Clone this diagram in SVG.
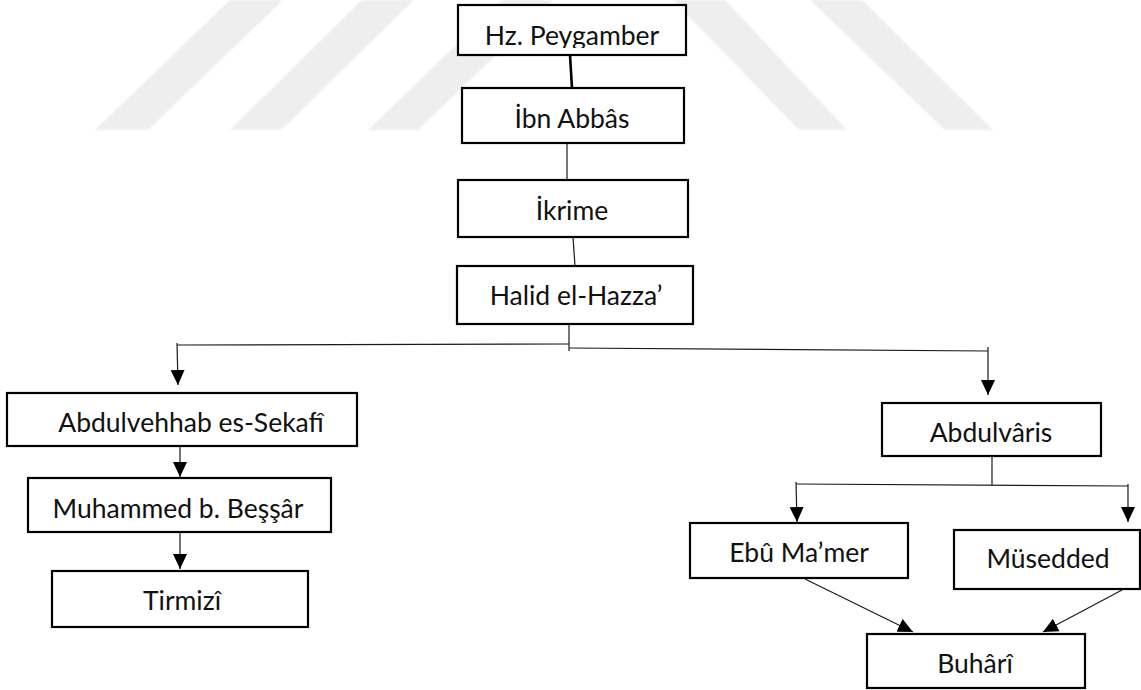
<svg xmlns="http://www.w3.org/2000/svg" width="1141" height="690" viewBox="0 0 1141 690">
  <defs>
    <style>
      .box { fill: #ffffff; stroke: #000000; stroke-width: 2.2; }
      .lbl { font-family: Lato, "Liberation Sans", Arial, sans-serif; font-size: 26.5px; fill: #111111; text-anchor: middle; }
      .ln { fill: none; stroke: #1a1a1a; stroke-width: 1.2; }
      .wm { fill: #eeeeee; }
    </style>
    <marker id="ah" markerUnits="userSpaceOnUse" markerWidth="16" markerHeight="16" viewBox="0 0 16 16" refX="15" refY="8" orient="auto">
      <path d="M0,1 L15,8 L0,15 Z" fill="#000000"/>
    </marker>
    <clipPath id="hzclip">
      <rect x="458" y="5" width="228" height="43"/>
    </clipPath>
    <filter id="soft" x="-5%" y="-5%" width="110%" height="110%">
      <feGaussianBlur stdDeviation="1"/>
    </filter>
  </defs>

  <rect x="0" y="0" width="1141" height="690" fill="#ffffff"/>

  <g id="watermark" filter="url(#soft)">
    <polygon class="wm" points="230,0 283,0 148,130 95,130"/>
    <polygon class="wm" points="362,0 414,0 281,130 230,130"/>
    <polygon class="wm" points="503,0 553,0 418,130 368,130"/>
    <polygon class="wm" points="673,0 725,0 847,130 799,130"/>
    <polygon class="wm" points="810,0 862,0 993,130 945,130"/>
  </g>

  <g id="connectors">
    <line x1="570" y1="55" x2="572" y2="88" stroke="#000" stroke-width="2.6"/>
    <line class="ln" x1="567" y1="143" x2="567" y2="180"/>
    <line class="ln" x1="573" y1="237" x2="575" y2="266"/>
    <line class="ln" x1="569" y1="324" x2="569" y2="351"/>
    <line class="ln" x1="177" y1="345" x2="569" y2="344"/>
    <line class="ln" x1="569" y1="348" x2="988" y2="351"/>
    <line class="ln" x1="177" y1="343" x2="178" y2="385" marker-end="url(#ah)"/>
    <line class="ln" x1="988" y1="347" x2="988" y2="395" marker-end="url(#ah)"/>
    <line class="ln" x1="180" y1="446" x2="180" y2="477" marker-end="url(#ah)"/>
    <line class="ln" x1="180" y1="532" x2="180" y2="569" marker-end="url(#ah)"/>
    <line class="ln" x1="992" y1="456" x2="992" y2="485"/>
    <line class="ln" x1="796" y1="484" x2="1128" y2="486"/>
    <line class="ln" x1="796" y1="482" x2="797" y2="522" marker-end="url(#ah)"/>
    <line class="ln" x1="1128" y1="484" x2="1128" y2="522" marker-end="url(#ah)"/>
    <line class="ln" x1="805" y1="579" x2="913" y2="632" marker-end="url(#ah)"/>
    <line class="ln" x1="1122" y1="590" x2="1043" y2="632" marker-end="url(#ah)"/>
  </g>

  <g id="n-hz">
    <rect class="box" x="458" y="5" width="228" height="50"/>
    <text class="lbl" x="572" y="45" clip-path="url(#hzclip)">Hz. Peygamber</text>
  </g>
  <g id="n-ibn">
    <rect class="box" x="462" y="88" width="222" height="55"/>
    <text class="lbl" x="572" y="128">İbn Abbâs</text>
  </g>
  <g id="n-ikrime">
    <rect class="box" x="458" y="180" width="230" height="57"/>
    <text class="lbl" x="572" y="220">İkrime</text>
  </g>
  <g id="n-halid">
    <rect class="box" x="457" y="266" width="236" height="58"/>
    <text class="lbl" x="576" y="305">Halid el-Hazza’</text>
  </g>
  <g id="n-abdulvehhab">
    <rect class="box" x="7" y="393" width="350" height="53"/>
    <text class="lbl" x="191" y="432">Abdulvehhab es-Sekafî</text>
  </g>
  <g id="n-muhammed">
    <rect class="box" x="28" y="478" width="303" height="54"/>
    <text class="lbl" x="178" y="518">Muhammed b. Beşşâr</text>
  </g>
  <g id="n-tirmizi">
    <rect class="box" x="52" y="571" width="256" height="56"/>
    <text class="lbl" x="182" y="610">Tirmizî</text>
  </g>
  <g id="n-abdulvaris">
    <rect class="box" x="882" y="403" width="219" height="53"/>
    <text class="lbl" x="991" y="442">Abdulvâris</text>
  </g>
  <g id="n-ebumamer">
    <rect class="box" x="690" y="523" width="218" height="55"/>
    <text class="lbl" x="799" y="562">Ebû Ma’mer</text>
  </g>
  <g id="n-musedded">
    <rect class="box" x="954" y="530" width="186" height="59"/>
    <text class="lbl" x="1048" y="568">Müsedded</text>
  </g>
  <g id="n-buhari">
    <rect class="box" x="867" y="634" width="218" height="54"/>
    <text class="lbl" x="975" y="673">Buhârî</text>
  </g>
</svg>
